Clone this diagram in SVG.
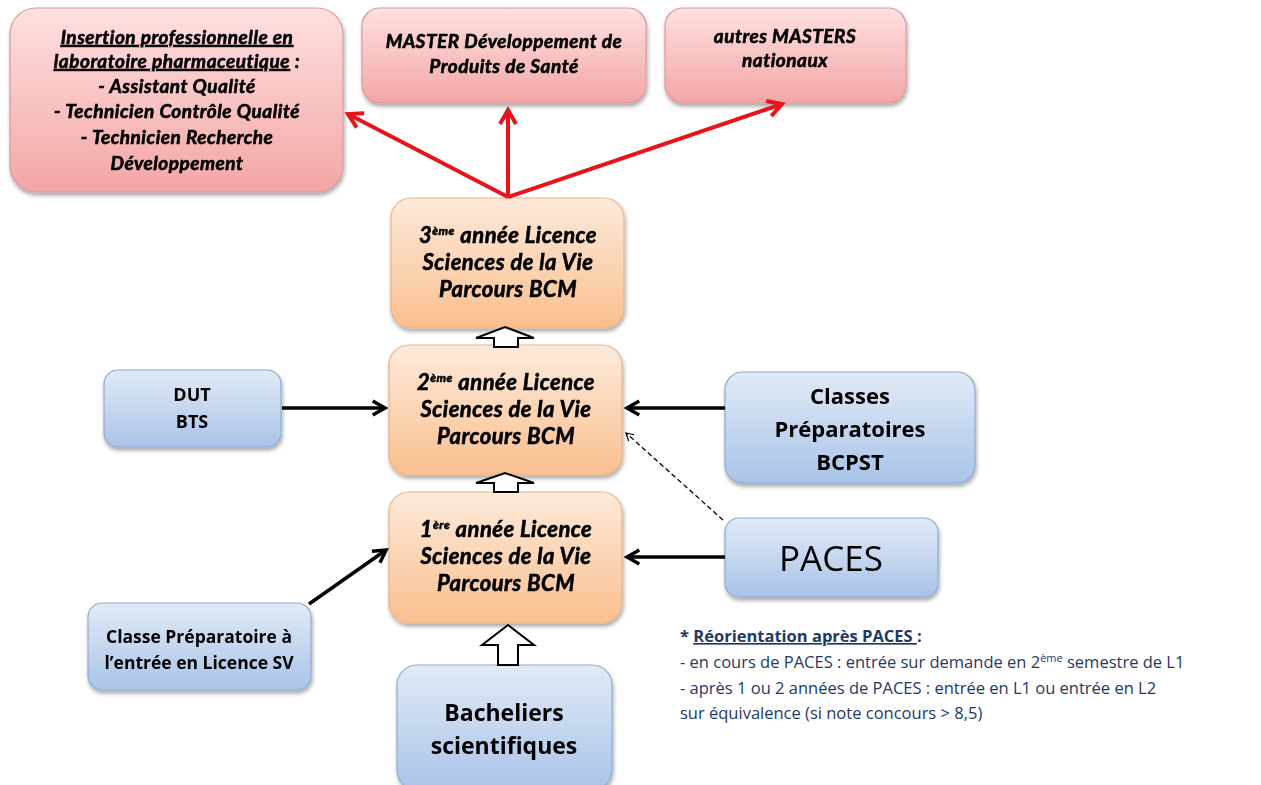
<svg xmlns="http://www.w3.org/2000/svg" width="1261" height="785" viewBox="0 0 1261 785">
<defs>
<linearGradient id="gRed" x1="0" y1="0" x2="0" y2="1"><stop offset="0" stop-color="#ffe0e0"/><stop offset="1" stop-color="#f3a6a6"/></linearGradient>
<linearGradient id="gOr" x1="0" y1="0" x2="0" y2="1"><stop offset="0" stop-color="#fdeadb"/><stop offset="1" stop-color="#f9bf8e"/></linearGradient>
<linearGradient id="gBl" x1="0" y1="0" x2="0" y2="1"><stop offset="0" stop-color="#e1eaf6"/><stop offset="1" stop-color="#a9c3e8"/></linearGradient>
<filter id="sh" x="-10%" y="-10%" width="125%" height="130%"><feGaussianBlur in="SourceAlpha" stdDeviation="2"/><feOffset dx="1" dy="3"/><feComponentTransfer><feFuncA type="linear" slope="0.35"/></feComponentTransfer><feMerge><feMergeNode/><feMergeNode in="SourceGraphic"/></feMerge></filter>
<marker id="aRed" viewBox="0 0 10 10" refX="8" refY="5" markerWidth="5" markerHeight="5" orient="auto"><path d="M1,1 L8,5 L1,9" fill="none" stroke="#e8141b" stroke-width="2"/></marker>
<marker id="aBlk" viewBox="0 0 10 10" refX="8" refY="5" markerWidth="5" markerHeight="5" orient="auto"><path d="M1,1 L8,5 L1,9" fill="none" stroke="#000" stroke-width="2"/></marker>
<marker id="aDash" viewBox="0 0 10 10" refX="8" refY="5" markerWidth="8" markerHeight="8" orient="auto"><path d="M1,1 L8,5 L1,9" fill="none" stroke="#000" stroke-width="1.2"/></marker>
</defs>
<style>
.red{fill:url(#gRed);stroke:#d89a9a;stroke-width:1.2}
.or{fill:url(#gOr);stroke:#e8b58a;stroke-width:1.2}
.bl{fill:url(#gBl);stroke:#8eaad3;stroke-width:1.2}
.ti{font-family:Lato,"Liberation Sans",sans-serif;font-weight:bold;font-style:italic;fill:#000;stroke:#000;stroke-width:0.6;text-anchor:middle}
.tb{font-family:"Open Sans",Lato,"Liberation Sans",sans-serif;font-weight:bold;fill:#000;text-anchor:middle}
.note{font-family:"Open Sans","Liberation Sans",sans-serif;fill:#1f3864;font-size:16.5px}
</style>
<rect width="1261" height="785" fill="#fff"/>

<g id="n-insertion" filter="url(#sh)">
<rect class="red" x="10" y="8" width="333" height="184" rx="26"/>
<text class="ti" font-size="19" letter-spacing="0.5"><tspan x="177" y="44" text-decoration="underline">Insertion professionnelle en</tspan><tspan x="177" y="68"><tspan text-decoration="underline">laboratoire pharmaceutique</tspan> :</tspan><tspan x="177" y="93">- Assistant Qualité</tspan><tspan x="177" y="118">- Technicien Contrôle Qualité</tspan><tspan x="177" y="144">- Technicien Recherche</tspan><tspan x="177" y="170">Développement</tspan></text>
</g>
<g id="n-master" filter="url(#sh)">
<rect class="red" x="362" y="8" width="284" height="95" rx="18"/>
<text class="ti" font-size="19" letter-spacing="0.5"><tspan x="504" y="48">MASTER Développement de</tspan><tspan x="504" y="73">Produits de Santé</tspan></text>
</g>
<g id="n-autres" filter="url(#sh)">
<rect class="red" x="665" y="8" width="241" height="95" rx="18"/>
<text class="ti" font-size="19" letter-spacing="0.5"><tspan x="785" y="43">autres MASTERS</tspan><tspan x="785" y="67">nationaux</tspan></text>
</g>

<g id="n-l3" filter="url(#sh)">
<rect class="or" x="391" y="198" width="233" height="130" rx="20"/>
<text class="ti" font-size="22" letter-spacing="0.5"><tspan x="508" y="243">3<tspan font-size="12" dy="-8">ème</tspan><tspan dy="8"> année Licence</tspan></tspan><tspan x="508" y="270">Sciences de la Vie</tspan><tspan x="508" y="297">Parcours BCM</tspan></text>
</g>
<g id="n-l2" filter="url(#sh)">
<rect class="or" x="389" y="345" width="233" height="130" rx="20"/>
<text class="ti" font-size="22" letter-spacing="0.5"><tspan x="506" y="390">2<tspan font-size="12" dy="-8">ème</tspan><tspan dy="8"> année  Licence</tspan></tspan><tspan x="506" y="417">Sciences de la Vie</tspan><tspan x="506" y="444">Parcours BCM</tspan></text>
</g>
<g id="n-l1" filter="url(#sh)">
<rect class="or" x="389" y="492" width="233" height="131" rx="20"/>
<text class="ti" font-size="22" letter-spacing="0.5"><tspan x="506" y="537">1<tspan font-size="12" dy="-8">ère</tspan><tspan dy="8"> année  Licence</tspan></tspan><tspan x="506" y="564">Sciences de la Vie</tspan><tspan x="506" y="591">Parcours BCM</tspan></text>
</g>

<g id="n-dut" filter="url(#sh)">
<rect class="bl" x="104" y="370" width="177" height="77" rx="14"/>
<text class="tb" font-size="18"><tspan x="192" y="401">DUT</tspan><tspan x="192" y="428">BTS</tspan></text>
</g>
<g id="n-classeprep" filter="url(#sh)">
<rect class="bl" x="88" y="603" width="223" height="87" rx="14"/>
<text class="tb" font-size="17.5"><tspan x="199" y="643">Classe  Préparatoire à</tspan><tspan x="199" y="669">l’entrée en Licence SV</tspan></text>
</g>
<g id="n-bcpst" filter="url(#sh)">
<rect class="bl" x="725" y="372" width="250" height="111" rx="18"/>
<text class="tb" font-size="22"><tspan x="850" y="404">Classes</tspan><tspan x="850" y="437">Préparatoires</tspan><tspan x="850" y="470">BCPST</tspan></text>
</g>
<g id="n-paces" filter="url(#sh)">
<rect class="bl" x="725" y="518" width="213" height="79" rx="14"/>
<text x="831" y="571" font-family="'Open Sans','Liberation Sans',sans-serif" font-size="35" text-anchor="middle" fill="#000">PACES</text>
</g>
<g id="n-bac" filter="url(#sh)">
<rect class="bl" x="397" y="665" width="215" height="125" rx="20"/>
<text class="tb" font-size="23"><tspan x="504" y="721">Bacheliers</tspan><tspan x="504" y="754">scientifiques</tspan></text>
</g>

<g id="connectors">
<g stroke="#e8141b" stroke-width="4" fill="none" marker-end="url(#aRed)">
<line x1="508" y1="197" x2="348" y2="114"/>
<line x1="508" y1="197" x2="508" y2="110"/>
<line x1="508" y1="197" x2="782" y2="104"/>
</g>
<g stroke="#000" stroke-width="3.5" fill="none" marker-end="url(#aBlk)">
<line x1="282" y1="408" x2="385" y2="408"/>
<line x1="725" y1="408" x2="627" y2="408"/>
<line x1="725" y1="557" x2="627" y2="557"/>
<line x1="309" y1="604" x2="386" y2="550"/>
</g>
<line x1="723" y1="520" x2="626" y2="433" stroke="#000" stroke-width="1.3" stroke-dasharray="5,3" marker-end="url(#aDash)"/>
<g fill="#fff" stroke="#000" stroke-width="2">
<path d="M476,338 L505,327 L534,338 L518,338 L518,347 L494,347 L494,338 Z"/>
<path d="M476,483 L505,473 L534,483 L518,483 L518,492 L494,492 L494,483 Z"/>
<path d="M482,645 L508,625 L534,645 L518,645 L518,665 L498,665 L498,645 Z"/>
</g>
</g>

<g id="note">
<text class="note" font-weight="bold" x="680" y="642">* <tspan text-decoration="underline">Réorientation après PACES </tspan>:</text>
<text class="note" x="680" y="668">- en cours de PACES : entrée sur demande en 2<tspan font-size="11" dy="-6">ème</tspan><tspan dy="6"> semestre de L1</tspan></text>
<text class="note" x="680" y="694">- après 1 ou 2 années de PACES : entrée en L1 ou entrée en L2</text>
<text class="note" x="680" y="719">sur équivalence (si note concours &gt; 8,5)</text>
</g>
</svg>
